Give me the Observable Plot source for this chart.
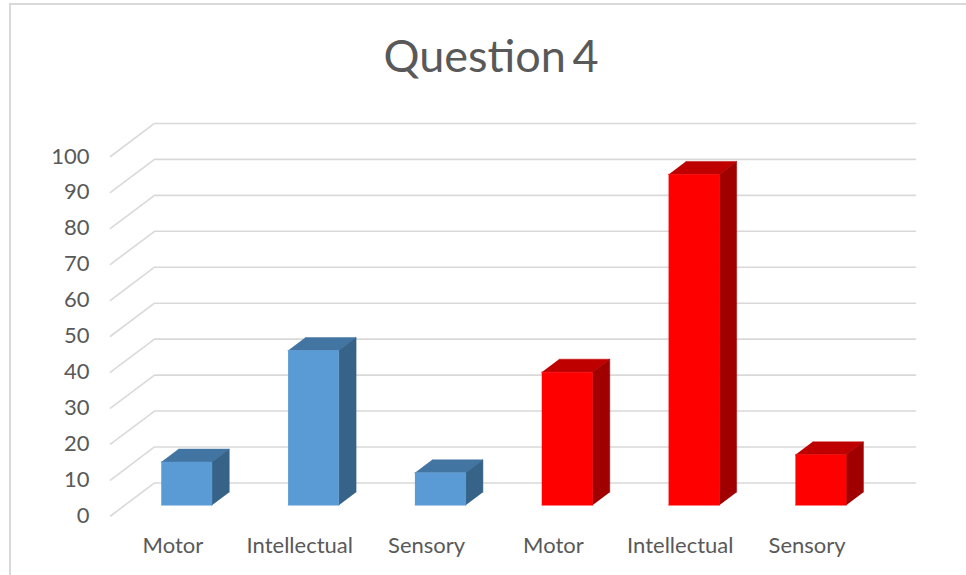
<!DOCTYPE html>
<html>
<head>
<meta charset="utf-8">
<script src="https://cdn.jsdelivr.net/npm/d3@7"></script>
<script src="https://cdn.jsdelivr.net/npm/@observablehq/plot@0.6"></script>
<style>
  html, body { margin: 0; padding: 0; background: #fff; width: 966px; height: 575px; overflow: hidden; }
  #frame { position: absolute; left: 9px; top: 3px; right: -4px; bottom: -4px; border: 2px solid #d9d9d9; pointer-events: none; }
  #title { height: 100px; box-sizing: border-box; padding-left: 16px; padding-top: 26px; text-align: center;
           font: 45px/58px Lato, sans-serif; word-spacing: -5px; color: #595959; }
  #chart svg { display: block; background: transparent; }
</style>
</head>
<body>
<div id="frame"></div>
<div id="title">Question 4</div>
<div id="chart"></div>
<script>
const categories = ["Motor", "Intellectual", "Sensory", "Motor", "Intellectual", "Sensory"];
const values = [12, 43, 9, 37, 92, 14];
const faceColors = ["#5b9bd5", "#5b9bd5", "#5b9bd5", "#ff0000", "#ff0000", "#ff0000"];
const topColors = ["#4375a3", "#4375a3", "#4375a3", "#bf0000", "#bf0000", "#bf0000"];
const sideColors = ["#376389", "#376389", "#376389", "#a00000", "#a00000", "#a00000"];
const yTicks = [0, 10, 20, 30, 40, 50, 60, 70, 80, 90, 100];

// Oblique projection of the chart's depth axis, in data units
const depthX = 0.347, depthY = 9.2;
const barFront = 0.327, barBack = 0.72, barWidth = 0.4, barShift = -0.0134;
const project = (x, y, d) => ({x: x + d * depthX, y: y + d * depthY});

const gridlines = yTicks.flatMap(v => [
  {...project(0, v, 0), v},
  {...project(0, v, 1), v},
  {...project(categories.length, v, 1), v}
]);

const faces = values.flatMap((v, i) => {
  const a = i + 0.5 - barWidth / 2 + barShift, b = a + barWidth;
  const poly = (name, fill, pts) => pts.map(([x, y, d]) => ({...project(x, y, d), id: `${i}-${name}`, fill}));
  return [
    ...poly("top", topColors[i], [[a, v, barFront], [b, v, barFront], [b, v, barBack], [a, v, barBack]]),
    ...poly("side", sideColors[i], [[b, 0, barFront], [b, v, barFront], [b, v, barBack], [b, 0, barBack]]),
    ...poly("front", faceColors[i], [[a, 0, barFront], [b, 0, barFront], [b, v, barFront], [a, v, barFront]])
  ];
});

const plot = Plot.plot({
  width: 966,
  height: 475,
  marginLeft: 110,
  marginBottom: 59.5,
  marginTop: 0,
  marginRight: 0,
  style: {fontFamily: "Lato, sans-serif", background: "transparent", overflow: "visible"},
  x: {domain: [0, categories.length], range: [110, 871]},
  y: {domain: [0, 100], range: [415.5, 56]},
  color: {type: "identity"},
  marks: [
    Plot.line(gridlines, {x: "x", y: "y", z: "v", stroke: "#d9d9d9", strokeWidth: 1.6}),
    Plot.line(faces, {x: "x", y: "y", z: "id", fill: "fill", stroke: "fill", strokeWidth: 0.5}),
    Plot.axisY({ticks: yTicks, tickSize: 0, tickPadding: 21, fontSize: 22, label: null, fill: "#595959"}),
    Plot.axisX({ticks: categories.map((_, i) => i + 0.5), tickFormat: d => categories[Math.floor(d)],
      tickSize: 0, tickPadding: 21, dx: -1, fontSize: 22, label: null, fill: "#595959"})
  ]
});
document.getElementById("chart").append(plot);
</script>
</body>
</html>
